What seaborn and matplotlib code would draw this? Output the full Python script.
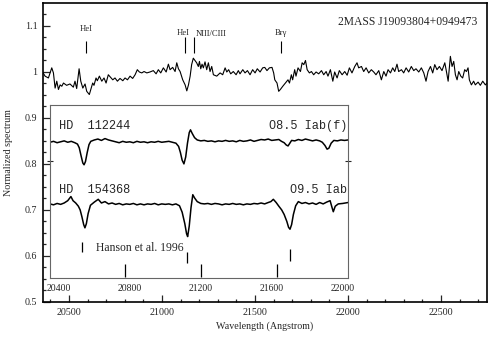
import numpy as np
import pandas as pd
import matplotlib
matplotlib.use("Agg")
import matplotlib.pyplot as plt
import seaborn as sns

# main spectrum (2MASS J19093804+0949473)
main_wave = [20358, 20371, 20389, 20407, 20416, 20425, 20434, 20443, 20452, 20461,
             20470, 20487, 20505, 20523, 20532, 20541, 20554, 20563, 20574, 20586,
             20595, 20609, 20617, 20627, 20634, 20645, 20652, 20663, 20676, 20688,
             20699, 20711, 20724, 20735, 20747, 20760, 20774, 20789, 20801, 20814,
             20828, 20842, 20855, 20867, 20878, 20891, 20903, 20918, 20935, 20953,
             20968, 20980, 20993, 21007, 21022, 21034, 21043, 21057, 21070, 21079,
             21088, 21097, 21111, 21124, 21133, 21142, 21151, 21159, 21168, 21177,
             21186, 21195, 21201, 21208, 21215, 21222, 21231, 21240, 21249, 21258,
             21267, 21276, 21294, 21312, 21326, 21339, 21348, 21358, 21369, 21383,
             21398, 21410, 21419, 21434, 21446, 21459, 21473, 21487, 21500, 21512,
             21527, 21541, 21552, 21564, 21577, 21591, 21600, 21606, 21618, 21627,
             21636, 21649, 21663, 21677, 21685, 21695, 21702, 21713, 21720, 21731,
             21744, 21753, 21762, 21771, 21780, 21792, 21803, 21815, 21828, 21842,
             21857, 21869, 21882, 21892, 21905, 21918, 21928, 21941, 21953, 21968,
             21982, 21995, 22007, 22021, 22036, 22048, 22057, 22072, 22084, 22097,
             22111, 22125, 22138, 22150, 22165, 22179, 22192, 22204, 22215, 22228,
             22240, 22251, 22263, 22272, 22287, 22299, 22312, 22326, 22340, 22353,
             22365, 22380, 22394, 22407, 22419, 22430, 22443, 22455, 22466, 22478,
             22491, 22505, 22520, 22527, 22538, 22550, 22559, 22568, 22577, 22586,
             22595, 22606, 22616, 22627, 22636, 22645, 22652, 22663, 22675, 22684,
             22699, 22711, 22724, 22738, 22747]
main_flux = [1.000, 0.991, 0.987, 1.009, 0.998, 0.965, 0.980, 0.962, 0.972, 0.969,
             0.976, 0.971, 0.974, 0.967, 0.980, 0.964, 1.007, 0.980, 0.965, 0.974,
             0.958, 0.951, 0.962, 0.976, 0.971, 0.987, 0.981, 0.991, 0.980, 0.987,
             0.976, 0.994, 0.988, 0.983, 0.987, 0.980, 0.986, 0.981, 0.987, 0.983,
             0.991, 0.986, 0.994, 1.005, 1.000, 0.998, 1.001, 0.998, 1.000, 1.003,
             0.996, 1.005, 0.998, 1.009, 1.000, 1.017, 1.005, 1.010, 1.001, 1.020,
             1.007, 1.001, 0.983, 0.972, 0.959, 0.972, 0.991, 1.016, 1.030, 1.025,
             1.020, 1.012, 1.023, 1.007, 1.017, 1.009, 1.022, 1.005, 1.020, 1.001,
             1.012, 0.994, 0.991, 0.998, 0.994, 1.009, 1.000, 1.005, 0.996, 1.001,
             0.994, 1.003, 0.996, 1.005, 0.998, 1.003, 0.994, 1.005, 0.998, 1.007,
             1.000, 1.009, 1.010, 1.003, 1.009, 1.010, 0.998, 0.983, 0.976, 0.958,
             0.962, 0.969, 0.976, 0.983, 0.976, 0.994, 0.983, 1.005, 0.991, 1.009,
             1.001, 1.020, 1.016, 1.025, 1.005, 0.998, 1.001, 0.994, 1.000, 0.996,
             1.003, 0.994, 1.001, 0.991, 1.005, 0.980, 1.000, 0.987, 1.003, 0.994,
             1.001, 0.993, 1.009, 0.998, 1.012, 1.020, 1.009, 1.012, 1.001, 1.009,
             0.998, 1.005, 1.000, 0.994, 1.003, 0.983, 1.001, 0.991, 1.005, 0.998,
             1.009, 1.001, 1.017, 1.001, 1.005, 0.998, 1.009, 1.000, 1.012, 1.003,
             1.007, 1.000, 1.009, 0.998, 0.980, 1.001, 1.012, 0.998, 1.016, 1.005,
             1.012, 1.003, 1.020, 1.005, 0.980, 1.034, 1.012, 1.023, 0.994, 0.983,
             1.001, 0.991, 0.987, 1.005, 1.001, 1.009, 0.983, 0.972, 0.980, 0.972,
             0.978, 0.971, 0.980, 0.972, 0.976]

# inset: comparison stars (Hanson et al. 1996)
hd112244_wave = [20350, 20370, 20390, 20410, 20430, 20450, 20470, 20490, 20505, 20515,
                 20525, 20535, 20542, 20550, 20560, 20570, 20580, 20600, 20620, 20640,
                 20660, 20680, 20700, 20720, 20740, 20760, 20780, 20800, 20820, 20840,
                 20860, 20880, 20900, 20920, 20940, 20960, 20980, 21000, 21020, 21040,
                 21060, 21075, 21085, 21095, 21105, 21115, 21125, 21135, 21142, 21152,
                 21165, 21180, 21200, 21220, 21240, 21260, 21280, 21300, 21320, 21340,
                 21360, 21380, 21400, 21420, 21440, 21460, 21480, 21500, 21520, 21540,
                 21560, 21580, 21600, 21620, 21640, 21655, 21670, 21682, 21692, 21702,
                 21712, 21730, 21750, 21770, 21790, 21810, 21830, 21850, 21870, 21885,
                 21900, 21912, 21922, 21935, 21950, 21970, 21990, 22010, 22030]
hd112244_flux = [0.847, 0.849, 0.846, 0.848, 0.850, 0.847, 0.849, 0.846, 0.843, 0.835,
                 0.818, 0.802, 0.798, 0.805, 0.825, 0.842, 0.849, 0.852, 0.854, 0.851,
                 0.855, 0.852, 0.850, 0.848, 0.846, 0.849, 0.847, 0.848, 0.846, 0.849,
                 0.847, 0.848, 0.846, 0.848, 0.847, 0.849, 0.847, 0.848, 0.849, 0.847,
                 0.845, 0.838, 0.825, 0.808, 0.800, 0.815, 0.845, 0.868, 0.874, 0.866,
                 0.857, 0.852, 0.850, 0.851, 0.849, 0.850, 0.848, 0.850, 0.849, 0.851,
                 0.849, 0.850, 0.848, 0.851, 0.849, 0.850, 0.852, 0.849, 0.851, 0.853,
                 0.852, 0.854, 0.851, 0.852, 0.853, 0.849, 0.846, 0.841, 0.839, 0.845,
                 0.851, 0.850, 0.853, 0.851, 0.854, 0.852, 0.850, 0.852, 0.850, 0.847,
                 0.840, 0.832, 0.834, 0.845, 0.851, 0.850, 0.852, 0.851, 0.852]

hd154368_wave = [20350, 20370, 20390, 20410, 20430, 20450, 20468, 20480, 20495, 20510,
                 20520, 20530, 20540, 20547, 20555, 20565, 20578, 20600, 20622, 20640,
                 20660, 20680, 20700, 20720, 20740, 20760, 20780, 20800, 20820, 20840,
                 20860, 20880, 20900, 20920, 20940, 20960, 20980, 21000, 21020, 21040,
                 21060, 21080, 21095, 21110, 21120, 21126, 21135, 21145, 21155, 21165,
                 21180, 21200, 21220, 21240, 21260, 21280, 21300, 21320, 21340, 21360,
                 21380, 21400, 21420, 21440, 21460, 21480, 21500, 21520, 21540, 21560,
                 21580, 21595, 21609, 21625, 21640, 21656, 21670, 21685, 21695, 21703,
                 21712, 21722, 21735, 21750, 21770, 21790, 21810, 21830, 21850, 21870,
                 21890, 21910, 21929, 21940, 21947, 21958, 21975, 22000, 22030]
hd154368_flux = [0.713, 0.711, 0.714, 0.712, 0.715, 0.720, 0.729, 0.720, 0.715, 0.708,
                 0.700, 0.685, 0.668, 0.661, 0.670, 0.692, 0.710, 0.717, 0.723, 0.715,
                 0.718, 0.713, 0.715, 0.712, 0.714, 0.711, 0.713, 0.712, 0.714, 0.711,
                 0.713, 0.711, 0.713, 0.712, 0.714, 0.711, 0.713, 0.712, 0.713, 0.711,
                 0.713, 0.709, 0.695, 0.670, 0.648, 0.642, 0.665, 0.705, 0.733, 0.726,
                 0.718, 0.714, 0.713, 0.714, 0.712, 0.714, 0.713, 0.711, 0.713, 0.712,
                 0.714, 0.712, 0.713, 0.711, 0.713, 0.712, 0.714, 0.713, 0.715, 0.713,
                 0.716, 0.718, 0.723, 0.716, 0.708, 0.700, 0.690, 0.675, 0.662, 0.658,
                 0.668, 0.690, 0.709, 0.718, 0.714, 0.716, 0.713, 0.715, 0.712, 0.716,
                 0.713, 0.717, 0.720, 0.705, 0.696, 0.708, 0.713, 0.714, 0.716]

# line identifications on the main spectrum
line_names = ["HeI", "HeI", "NIII/CIII", "Brγ"]
line_wave = [20591, 21124, 21174, 21638]
line_top = [1.067, 1.076, 1.076, 1.067]
label_wave = [20591, 21113, 21263, 21640]
label_y = [1.093, 1.085, 1.083, 1.085]

# Hanson et al. 1996 markers in the inset
hanson_wave = [20530, 21121, 21703, 20773, 21201, 21632]
hanson_lo = [0.609, 0.584, 0.588, 0.555, 0.555, 0.555]
hanson_hi = [0.631, 0.609, 0.615, 0.583, 0.583, 0.583]

sns.set_style("ticks")
plt.rcParams["font.family"] = ["Liberation Serif", "DejaVu Serif"]

fig = plt.figure(figsize=(4.91, 3.40), dpi=100)
ax = fig.add_axes([0.0876, 0.1118, 0.9043, 0.8794])

df_main = pd.DataFrame({"wave": main_wave, "flux": main_flux})
sns.lineplot(data=df_main, x="wave", y="flux", ax=ax, color="black", linewidth=0.8)

ax.set_xlim(20360, 22747)
ax.set_ylim(0.5, 1.15)
ax.set_xticks([20500, 21000, 21500, 22000, 22500])
ax.set_xticks(np.arange(20400, 22701, 100), minor=True)
ax.set_yticks([0.5, 0.6, 0.7, 0.8, 0.9, 1.0, 1.1])
ax.set_yticklabels(["0.5", "0.6", "0.7", "0.8", "0.9", "1", "1.1"])
ax.set_yticks(np.arange(0.5, 1.15, 0.025), minor=True)
ax.tick_params(which="both", direction="in", top=False, right=False,
               labelsize=7.2, width=0.9)
ax.tick_params(which="major", length=5, pad=4)
ax.tick_params(which="minor", length=2.5)
for s in ax.spines.values():
    s.set_linewidth(1.2)
    s.set_color("black")

ax.set_xlabel("Wavelength (Angstrom)", fontsize=7.2)
ax.set_ylabel("Normalized spectrum", fontsize=7.2)
ax.xaxis.set_label_coords(0.5, -0.066)
ax.yaxis.set_label_coords(-0.068, 0.5)

ax.text(22693, 1.109, "2MASS J19093804+0949473", fontsize=8.4,
        ha="right", va="center")
ax.vlines(line_wave, 1.041, line_top, color="black", linewidth=0.8)
for name, x, y in zip(line_names, label_wave, label_y):
    ax.text(x, y, name, fontsize=6.2, ha="center", va="center")

# inset panel
ins = fig.add_axes([0.1018, 0.1824, 0.607, 0.5088])
ins.set_facecolor("white")
df_a = pd.DataFrame({"wave": hd112244_wave, "flux": hd112244_flux})
df_b = pd.DataFrame({"wave": hd154368_wave, "flux": hd154368_flux})
sns.lineplot(data=df_a, x="wave", y="flux", ax=ins, color="black", linewidth=1.1)
sns.lineplot(data=df_b, x="wave", y="flux", ax=ins, color="black", linewidth=1.1)
ins.set_xlim(20350, 22030)
ins.set_ylim(0.552, 0.928)
ins.set_xticks([20400, 20800, 21200, 21600, 22000])
ins.set_yticks([0.806])
ins.set_yticklabels([])
ins.tick_params(axis="x", length=0, pad=4, labelsize=7)
ins.tick_params(axis="y", direction="inout", length=4, right=True, left=True)
ins.set_xlabel("")
ins.set_ylabel("")
for s in ins.spines.values():
    s.set_linewidth(0.8)
    s.set_color("#666666")

mono = ["Liberation Mono", "DejaVu Sans Mono"]
ins.text(20401, 0.875, "HD  112244", family=mono, fontsize=8.6, va="baseline")
ins.text(22024, 0.875, "O8.5 Iab(f)", family=mono, fontsize=8.6,
         va="baseline", ha="right")
ins.text(20401, 0.737, "HD  154368", family=mono, fontsize=8.6, va="baseline")
ins.text(22024, 0.737, "O9.5 Iab", family=mono, fontsize=8.6,
         va="baseline", ha="right")
ins.vlines(hanson_wave, hanson_lo, hanson_hi, color="black", linewidth=0.9)
ins.text(20608, 0.611, "Hanson et al. 1996", fontsize=8.4, va="baseline")

fig.savefig("out.png", dpi=100, facecolor="white")
